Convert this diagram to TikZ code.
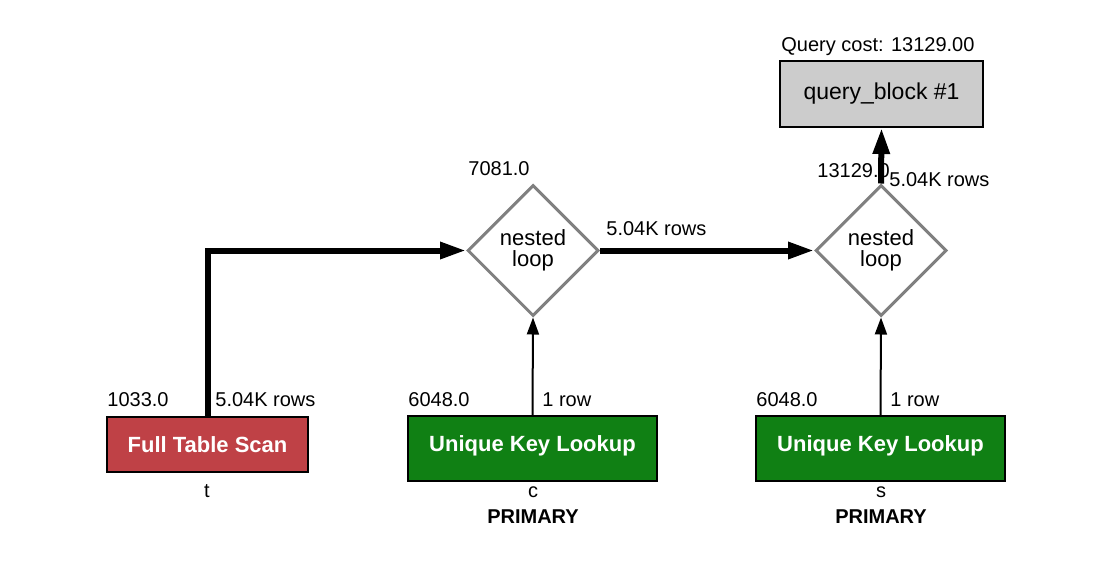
\documentclass[tikz,border=0pt]{standalone}
\usepackage{fontspec}
\setmainfont{Liberation Sans}
\usetikzlibrary{shapes.geometric,arrows.meta}
\definecolor{scanred}{RGB}{191,65,70}
\definecolor{lookupgreen}{RGB}{16,128,20}
\definecolor{blockgray}{RGB}{204,204,204}
\definecolor{loopgray}{RGB}{128,128,128}
\begin{document}
\begin{tikzpicture}[x=0.5pt,y=-0.5pt,
  lbl/.style={font=\fontsize{10}{12}\selectfont, inner sep=0pt, anchor=base west},
  sub/.style={font=\fontsize{10}{12}\selectfont, inner sep=0pt, anchor=base},
  subbold/.style={font=\fontsize{10}{12}\selectfont\bfseries, inner sep=0pt, anchor=base},
  opbox/.style={draw=black, line width=1pt, inner sep=0pt, text=white,
    font=\fontsize{11}{13}\selectfont\bfseries},
  loopnode/.style={diamond, draw=loopgray, line width=1.5pt, fill=white, aspect=1,
    minimum width=65.5pt, minimum height=65.5pt, inner sep=0pt, align=center,
    font=\fontsize{11}{10.5}\selectfont},
  blocknode/.style={draw=black, line width=1pt, fill=blockgray, inner sep=0pt,
    minimum width=101.5pt, minimum height=33pt, font=\fontsize{11.5}{13}\selectfont},
  thickflow/.style={line width=3pt, miter limit=10,
    -{Triangle[length=13pt,width=8pt]}},
  thinflow/.style={line width=1pt, -{Triangle[length=8.5pt,width=6pt]}}
]
\useasboundingbox (0,0) rectangle (1106,578);

% query block
\node[blocknode] (qb) at (881.5,94) {query\_block \#1};
\node[lbl] (qcost) at (781,51) {Query cost: 13129.00};

% nested loops
\node[loopnode] (nl1) at (533,250.5) {nested\\loop};
\node[loopnode] (nl2) at (881,250.5) {nested\\loop};

% access operations
\node[opbox, fill=scanred, minimum width=100.5pt, minimum height=27.5pt] (fts) at (207.5,444.5) {Full Table Scan};
\node[opbox, fill=lookupgreen, minimum width=124.5pt, minimum height=32.5pt, text depth=5.3pt] (ukl1) at (532.5,448.5) {Unique Key Lookup};
\node[opbox, fill=lookupgreen, minimum width=124.5pt, minimum height=32.5pt, text depth=5.3pt] (ukl2) at (880.5,448.5) {Unique Key Lookup};

% data flow
\draw[thickflow] (fts.north) |- (nl1.west);
\draw[thickflow] (nl1.east) -- (nl2.west);
\draw[thickflow] (nl2.north) -- (qb.south);
\draw[thinflow] (ukl1.north) -- (nl1.south);
\draw[thinflow] (ukl2.north) -- (nl2.south);

% costs and row counts
\node[lbl] (c1) at (107,406) {1033.0};
\node[lbl] (r1) at (215,406) {5.04K rows};
\node[lbl] (c2) at (408,406) {6048.0};
\node[lbl] (r2) at (542,406) {1 row};
\node[lbl] (c3) at (756,406) {6048.0};
\node[lbl] (r3) at (890,406) {1 row};
\node[lbl] (c4) at (468,175) {7081.0};
\node[lbl] (r4) at (606,235) {5.04K rows};
\node[lbl] (c5) at (817,177) {13129.0};
\node[lbl] (r5) at (889,186) {5.04K rows};

% table names and keys
\node[sub] (tt) at (207,497) {t};
\node[sub] (tc) at (533,497) {c};
\node[subbold] (kc) at (533,523) {PRIMARY};
\node[sub] (ts) at (881,497) {s};
\node[subbold] (ks) at (881,523) {PRIMARY};
\end{tikzpicture}
\end{document}
